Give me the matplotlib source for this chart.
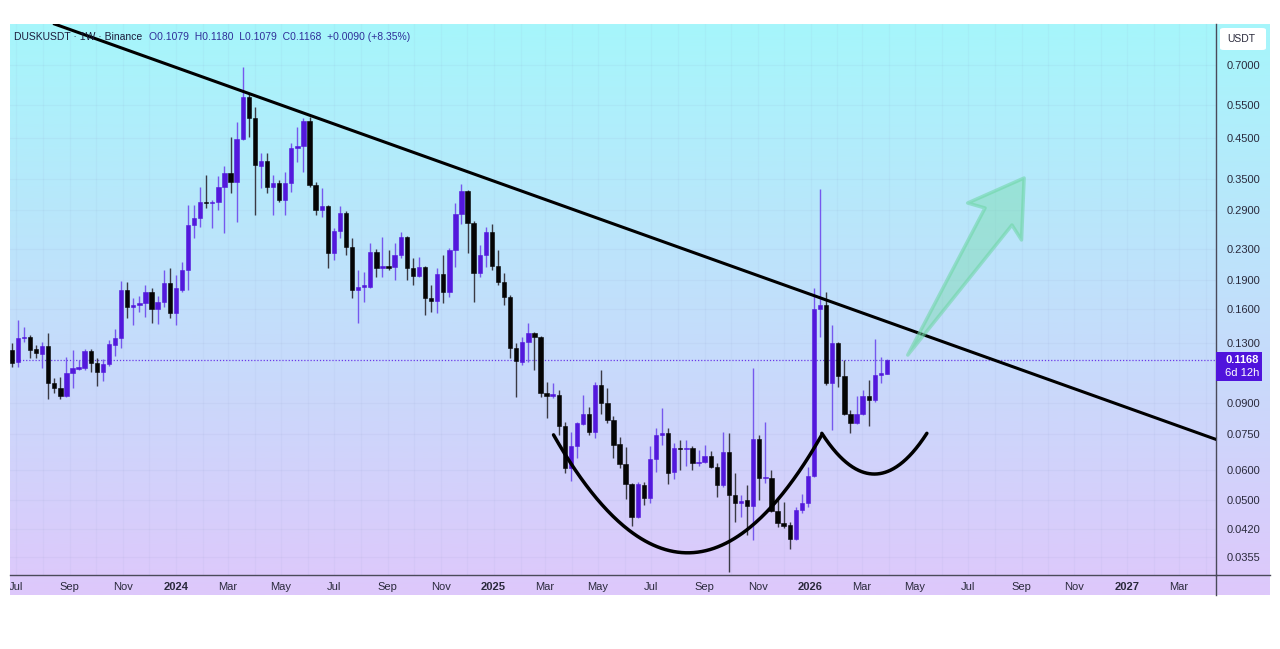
import numpy as np
import pandas as pd
import matplotlib
matplotlib.use("Agg")
import matplotlib.pyplot as plt
import matplotlib.dates as mdates
from matplotlib.patches import Polygon, Rectangle, FancyBboxPatch
from matplotlib.lines import Line2D
from matplotlib.ticker import NullLocator

# DUSK/USDT weekly candles
last_week = "2026-03-30"
opens = [0.1245, 0.1157, 0.1338, 0.1346, 0.1252, 0.1215, 0.1275, 0.1019, 0.0989, 0.0942,
         0.1083, 0.1109, 0.1116, 0.1237, 0.1150, 0.1089, 0.1143, 0.1283, 0.1338, 0.1790,
         0.1615, 0.1635, 0.1655, 0.1769, 0.1596, 0.1665, 0.1868, 0.1558, 0.1790, 0.2021,
         0.2654, 0.2769, 0.3052, 0.3033, 0.3052, 0.3341, 0.3638, 0.3444, 0.4470, 0.5772,
         0.5078, 0.3795, 0.3912, 0.3341, 0.3423, 0.3088, 0.3423, 0.4232, 0.4284, 0.4986,
         0.3382, 0.2907, 0.2978, 0.2240, 0.2560, 0.2854, 0.2323, 0.1790, 0.1823, 0.1823,
         0.2254, 0.2045, 0.2070, 0.2058, 0.2213, 0.2468, 0.2045, 0.1949, 0.2058, 0.1705,
         0.1675, 0.1973, 0.1769, 0.2281, 0.2837, 0.3261, 0.2686, 0.1985, 0.2213, 0.2545,
         0.2070, 0.1879, 0.1716, 0.1260, 0.1157, 0.1306, 0.1380, 0.1346, 0.0960, 0.0942,
         0.0948, 0.0785, 0.0609, 0.0696, 0.0795, 0.0844, 0.0757, 0.1007, 0.0903, 0.0814,
         0.0704, 0.0624, 0.0552, 0.0453, 0.0549, 0.0507, 0.0643, 0.0744, 0.0753, 0.0594,
         0.0687, 0.0683, 0.0687, 0.0628, 0.0631, 0.0655, 0.0612, 0.0549, 0.0671, 0.0517,
         0.0492, 0.0501, 0.0483, 0.0725, 0.0573, 0.0573, 0.0469, 0.0436, 0.0431, 0.0396,
         0.0472, 0.0492, 0.0580, 0.1596, 0.1635, 0.1019, 0.1298, 0.1064, 0.0844, 0.0799,
         0.0844, 0.0942, 0.0919, 0.1070, 0.1079]
highs = [0.1298, 0.1493, 0.1431, 0.1363, 0.1283, 0.1306, 0.1380, 0.1051, 0.1057, 0.1193,
         0.1245, 0.1171, 0.1252, 0.1252, 0.1185, 0.1178, 0.1322, 0.1414, 0.1890, 0.1879,
         0.1705, 0.1727, 0.1845, 0.1812, 0.1727, 0.2021, 0.2045, 0.1961, 0.2121, 0.2996,
         0.2996, 0.3341, 0.3594, 0.3088, 0.3572, 0.3795, 0.4525, 0.4956, 0.6916, 0.5913,
         0.5427, 0.4107, 0.4107, 0.3594, 0.3486, 0.3660, 0.4362, 0.4808, 0.5078, 0.5108,
         0.3444, 0.3321, 0.2998, 0.2606, 0.2978, 0.2889, 0.2453, 0.2021, 0.1997, 0.2380,
         0.2295, 0.2468, 0.2281, 0.2380, 0.2545, 0.2480, 0.2173, 0.2186, 0.2070, 0.1845,
         0.2045, 0.2213, 0.2309, 0.3033, 0.3402, 0.3280, 0.2719, 0.2351, 0.2622, 0.2670,
         0.2281, 0.1985, 0.1737, 0.1298, 0.1346, 0.1466, 0.1388, 0.1354, 0.1026, 0.1019,
         0.0977, 0.0804, 0.0757, 0.0804, 0.0948, 0.0881, 0.1026, 0.1102, 0.0989, 0.0834,
         0.0735, 0.0692, 0.0556, 0.0559, 0.0559, 0.0696, 0.0776, 0.0876, 0.0776, 0.0708,
         0.0721, 0.0721, 0.0696, 0.0679, 0.0700, 0.0675, 0.0628, 0.0757, 0.0753, 0.0591,
         0.0517, 0.0549, 0.1116, 0.0744, 0.0804, 0.0601, 0.0501, 0.0495, 0.0439, 0.0480,
         0.0520, 0.0612, 0.1812, 0.3301, 0.1769, 0.1448, 0.1305, 0.1171, 0.0865, 0.0942,
         0.0977, 0.1038, 0.1330, 0.1193, 0.1180]
lows = [0.1123, 0.1123, 0.1306, 0.1185, 0.1185, 0.1116, 0.0925, 0.0960, 0.0925, 0.0936,
        0.0989, 0.1102, 0.1102, 0.1089, 0.1001, 0.1032, 0.1129, 0.1200, 0.1260, 0.1511,
        0.1448, 0.1567, 0.1520, 0.1466, 0.1457, 0.1615, 0.1511, 0.1448, 0.1769, 0.1790,
        0.2453, 0.2622, 0.2942, 0.2606, 0.2907, 0.2529, 0.3222, 0.2703, 0.4443, 0.4525,
        0.2820, 0.3321, 0.3222, 0.2820, 0.3050, 0.2820, 0.3241, 0.3888, 0.3660, 0.3341,
        0.2820, 0.2786, 0.2045, 0.2147, 0.2453, 0.2213, 0.1705, 0.1466, 0.1665, 0.1812,
        0.1937, 0.1937, 0.2021, 0.1902, 0.2173, 0.1902, 0.1845, 0.1937, 0.1539, 0.1567,
        0.1558, 0.1655, 0.1716, 0.2058, 0.2670, 0.2240, 0.1665, 0.1937, 0.2058, 0.2021,
        0.1845, 0.1635, 0.1185, 0.0936, 0.1136, 0.1157, 0.1102, 0.0936, 0.0824, 0.0930,
        0.0744, 0.0591, 0.0563, 0.0647, 0.0790, 0.0744, 0.0730, 0.0844, 0.0799, 0.0647,
        0.0609, 0.0504, 0.0428, 0.0450, 0.0486, 0.0492, 0.0594, 0.0700, 0.0552, 0.0570,
        0.0601, 0.0616, 0.0601, 0.0616, 0.0628, 0.0609, 0.0511, 0.0543, 0.0324, 0.0439,
        0.0453, 0.0406, 0.0393, 0.0501, 0.0556, 0.0466, 0.0426, 0.0423, 0.0372, 0.0393,
        0.0463, 0.0480, 0.0577, 0.1346, 0.1007, 0.0766, 0.0995, 0.0839, 0.0753, 0.0795,
        0.0839, 0.0785, 0.0908, 0.1019, 0.1079]
closes = [0.1150, 0.1338, 0.1346, 0.1245, 0.1222, 0.1275, 0.1019, 0.0989, 0.0942, 0.1083,
          0.1116, 0.1123, 0.1237, 0.1150, 0.1089, 0.1143, 0.1290, 0.1338, 0.1790, 0.1615,
          0.1635, 0.1655, 0.1769, 0.1596, 0.1665, 0.1868, 0.1558, 0.1812, 0.2021, 0.2654,
          0.2769, 0.3052, 0.3033, 0.3052, 0.3341, 0.3638, 0.3444, 0.4470, 0.5772, 0.5078,
          0.3818, 0.3912, 0.3341, 0.3423, 0.3088, 0.3423, 0.4232, 0.4284, 0.4986, 0.3382,
          0.2907, 0.2978, 0.2240, 0.2560, 0.2854, 0.2323, 0.1790, 0.1823, 0.1845, 0.2254,
          0.2045, 0.2070, 0.2045, 0.2213, 0.2468, 0.2045, 0.1949, 0.2058, 0.1705, 0.1675,
          0.1973, 0.1769, 0.2281, 0.2837, 0.3261, 0.2686, 0.1985, 0.2213, 0.2545, 0.2070,
          0.1879, 0.1716, 0.1260, 0.1164, 0.1306, 0.1380, 0.1346, 0.0960, 0.0942, 0.0954,
          0.0785, 0.0609, 0.0696, 0.0799, 0.0844, 0.0757, 0.1007, 0.0903, 0.0814, 0.0700,
          0.0624, 0.0552, 0.0453, 0.0552, 0.0507, 0.0643, 0.0744, 0.0753, 0.0591, 0.0687,
          0.0683, 0.0687, 0.0628, 0.0631, 0.0655, 0.0612, 0.0549, 0.0671, 0.0517, 0.0492,
          0.0498, 0.0483, 0.0725, 0.0573, 0.0577, 0.0469, 0.0436, 0.0428, 0.0396, 0.0472,
          0.0492, 0.0580, 0.1596, 0.1635, 0.1019, 0.1298, 0.1064, 0.0844, 0.0799, 0.0844,
          0.0942, 0.0919, 0.1070, 0.1083, 0.1168]
last_price = 0.1168

# right-hand price scale and time scale labels
price_ticks = [0.7, 0.55, 0.45, 0.35, 0.29, 0.23, 0.19, 0.16, 0.13,
               0.09, 0.075, 0.06, 0.05, 0.042, 0.0355]
month_names = ["", "Jan", "Feb", "Mar", "Apr", "May", "Jun",
               "Jul", "Aug", "Sep", "Oct", "Nov", "Dec"]

# drawings on the chart (date, price)
trend_dates = ["2024-01-01", "2027-01-01"]
trend_prices = [0.690, 0.0877]
cup_dates = ["2025-03-11", "2025-08-13", "2026-01-14"]
cup_prices = [0.0744, 0.0364, 0.0744]
handle_dates = ["2026-01-14", "2026-03-13", "2026-05-15"]
handle_prices = [0.0751, 0.0587, 0.0751]
arrow_dates = ["2026-04-23", "2026-07-21", "2026-07-01", "2026-09-04", "2026-09-01", "2026-08-21"]
arrow_prices = [0.1207, 0.2942, 0.3033, 0.3529, 0.2424, 0.2654]

UP = "#5318dc"
UP_WICK = "#7658ee"
DOWN = "#050505"
DOWN_WICK = "#3a3a44"
TXT = "#2a2a3c"

W, H = 1280, 649


def fx(px):
    return px / W


def fy(py):
    return 1 - py / H


def main():
    fig = plt.figure(figsize=(12.8, 6.49), dpi=100)
    fig.patch.set_facecolor("white")

    # gradient backdrop (cyan -> lavender)
    bg = fig.add_axes([fx(10), fy(595), fx(1270) - fx(10), fy(24) - fy(595)])
    top = np.array([166, 246, 251]) / 255
    bot = np.array([222, 200, 251]) / 255
    t = np.linspace(0, 1, 256)[:, None]
    grad = (top * (1 - t) + bot * t)[:, None, :]
    bg.imshow(grad, aspect="auto", extent=[0, 1, 0, 1])
    bg.axis("off")

    ax = fig.add_axes([fx(10), fy(575), fx(1216) - fx(10), fy(24) - fy(575)])
    ax.set_facecolor("none")

    dates = pd.date_range(end=last_week, periods=len(opens), freq="W-MON")
    x = mdates.date2num(dates)
    o = np.array(opens)
    h = np.array(highs)
    l = np.array(lows)
    c = np.array(closes)
    up = c >= o

    ax.set_yscale("log")
    ax.set_ylim(0.03182, 0.8975)
    ax.set_xlim(mdates.date2num(pd.Timestamp("2023-06-24")),
                mdates.date2num(pd.Timestamp("2027-04-13")))

    # wicks and bodies
    ax.vlines(x[up], l[up], h[up], color=UP_WICK, lw=1.0, zorder=3)
    ax.vlines(x[~up], l[~up], h[~up], color=DOWN_WICK, lw=1.0, zorder=3)
    body_lo = np.minimum(o, c)
    body_hi = np.maximum(o, c)
    ax.bar(x[up], body_hi[up] - body_lo[up], bottom=body_lo[up], width=5.0,
           color=UP, edgecolor=UP, lw=0.4, zorder=4)
    ax.bar(x[~up], body_hi[~up] - body_lo[~up], bottom=body_lo[~up], width=5.0,
           color=DOWN, edgecolor=DOWN, lw=0.4, zorder=4)

    # last price dotted line
    ax.axhline(last_price, color="#6a3ae8", lw=0.9, ls=(0, (1, 1.5)), zorder=2)

    # descending trendline
    tx = mdates.date2num(pd.to_datetime(trend_dates))
    ax.axline((tx[0], trend_prices[0]), (tx[1], trend_prices[1]),
              color="black", lw=2.2, zorder=5)

    # cup and handle curves (parabolas on the log chart)
    for ds, ps in [(cup_dates, cup_prices), (handle_dates, handle_prices)]:
        dx = mdates.date2num(pd.to_datetime(ds))
        coef = np.polyfit(dx, np.log(ps), 2)
        xx = np.linspace(dx[0], dx[-1], 200)
        ax.plot(xx, np.exp(np.polyval(coef, xx)), color="black", lw=2.5,
                solid_capstyle="round", zorder=5)

    # green arrow
    ax_pts = np.column_stack([mdates.date2num(pd.to_datetime(arrow_dates)), arrow_prices])
    ax.add_patch(Polygon(ax_pts, closed=True, facecolor=(0.45, 0.86, 0.66, 0.42),
                         edgecolor=(0.42, 0.84, 0.64, 0.55), lw=2.5, joinstyle="round",
                         zorder=6))

    # y axis on the right
    ax.yaxis.tick_right()
    ax.set_yticks(price_ticks)
    ax.set_yticklabels([f"{p:.4f}" for p in price_ticks])
    ax.yaxis.set_minor_locator(NullLocator())
    ax.tick_params(axis="y", length=0, pad=8, labelsize=8, labelcolor=TXT)

    # x axis months
    ticks = pd.date_range("2023-07-01", "2027-03-01", freq="2MS")
    ax.set_xticks(mdates.date2num(ticks))
    labels = [str(d.year) if d.month == 1 else month_names[d.month] for d in ticks]
    ax.set_xticklabels(labels)
    for lab, d in zip(ax.get_xticklabels(), ticks):
        if d.month == 1:
            lab.set_fontweight("bold")
        lab.set_clip_on(True)
        lab.set_clip_box(bg.bbox)
    ax.xaxis.set_minor_locator(mdates.MonthLocator())
    ax.tick_params(axis="x", which="both", length=0, pad=5, labelsize=8, labelcolor=TXT)
    for lab in ax.get_xticklabels() + ax.get_yticklabels():
        lab.set_family("Liberation Sans")

    ax.grid(True, which="major", axis="y", color="#8e9cc8", alpha=0.09, lw=0.8)
    ax.grid(True, which="both", axis="x", color="#8e9cc8", alpha=0.08, lw=0.8)

    for side in ["top", "left"]:
        ax.spines[side].set_visible(False)
    for side in ["right", "bottom"]:
        ax.spines[side].set_color("#4a4a5a")
        ax.spines[side].set_linewidth(1.0)
    fig.add_artist(Line2D([fx(1216), fx(1270)], [fy(575), fy(575)],
                          transform=fig.transFigure, color="#4a4a5a", lw=1.0))
    fig.add_artist(Line2D([fx(1216), fx(1216)], [fy(575), fy(595)],
                          transform=fig.transFigure, color="#4a4a5a", lw=1.0))

    # USDT label box
    fig.patches.append(FancyBboxPatch((fx(1220), fy(50)), fx(1266) - fx(1220), fy(28) - fy(50),
                                      boxstyle="round,pad=0,rounding_size=0.003",
                                      transform=fig.transFigure, fc="white", ec="none"))
    fig.text(fx(1227), fy(39), "USDT", fontsize=7.5, color=TXT, va="center",
             family="Liberation Sans")

    # last price tag
    fig.patches.append(Rectangle((fx(1216), fy(381)), fx(1262) - fx(1216), fy(352) - fy(381),
                                 transform=fig.transFigure, fc="#5014dc", ec="none"))
    fig.text(fx(1225), fy(360), f"{last_price:.4f}", fontsize=8, color="white",
             fontweight="bold", va="center", family="Liberation Sans")
    fig.text(fx(1225), fy(373), "6d 12h", fontsize=8, color="white", va="center",
             family="Liberation Sans")

    # header: symbol part, then OHLC values right after it
    head = fig.text(fx(14), fy(37), "DUSKUSDT \u00b7 1W \u00b7 Binance", fontsize=7.5,
                    color="#1c1c3c", va="center", family="Liberation Sans")
    fig.canvas.draw()
    end_px = head.get_window_extent().x1
    fig.text((end_px + 7) / W, fy(37), "O0.1079  H0.1180  L0.1079  C0.1168  +0.0090 (+8.35%)",
             fontsize=7.5, color="#2f2f99", va="center", family="Liberation Sans")

    fig.savefig("out.png", dpi=100)


if __name__ == "__main__":
    main()
